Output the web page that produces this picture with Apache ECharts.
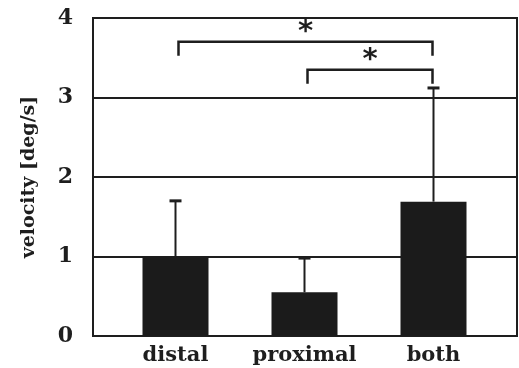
<!DOCTYPE html>
<html><head><meta charset="utf-8">
<script src="https://cdn.jsdelivr.net/npm/echarts@6/dist/echarts.min.js"></script>
<style>html,body{margin:0;padding:0;background:#fff}#c{width:519px;height:368px}</style>
</head><body><div id="c"></div>
<script>
const categories = ['distal', 'proximal', 'both'];
const meanVelocity = [1.0, 0.55, 1.69];
const sdVelocity = [0.70, 0.43, 1.43];
const yTicks = [0, 1, 2, 3, 4];
const sigFrom = ['distal', 'proximal'];
const sigTo = ['both', 'both'];
const sigHeight = [3.70, 3.35];
const sigLabel = ['*', '*'];

const ink = '#1e1e1e';
const serif = 'DejaVu Serif';
const chart = echarts.init(document.getElementById('c'));

const errData = meanVelocity.map((v, i) => [categories[i], v, v + sdVelocity[i]]);
const sigData = sigFrom.map((f, i) => [f, sigTo[i], sigHeight[i]]);
const yMin = yTicks[0], yMax = yTicks[yTicks.length - 1];

chart.setOption({
  animation: false,
  backgroundColor: '#fff',
  grid: [
    { left: 93, right: 2, top: 18, bottom: 32, show: true, borderColor: ink, borderWidth: 2, backgroundColor: 'transparent' },
    { left: 111, right: 21, top: 18, bottom: 32 }
  ],
  xAxis: [
    { gridIndex: 0, type: 'value', min: 0, max: 1, show: false },
    {
      gridIndex: 1, type: 'category', data: categories, boundaryGap: true,
      axisLine: { show: false }, axisTick: { show: false }, splitLine: { show: false },
      axisLabel: { interval: 0, hideOverlap: false, margin: 9, color: ink, fontFamily: serif, fontWeight: 'bold', fontSize: 21 }
    }
  ],
  yAxis: [
    {
      gridIndex: 0, type: 'value', min: yMin, max: yMax, interval: 1,
      name: 'velocity [deg/s]', nameLocation: 'middle', nameGap: 54,
      nameTextStyle: { color: ink, fontFamily: serif, fontWeight: 'bold', fontSize: 19 },
      axisLine: { show: false }, axisTick: { show: false },
      splitLine: { show: true, lineStyle: { color: ink, width: 2 } },
      axisLabel: { margin: 20, color: ink, fontFamily: serif, fontWeight: 'bold', fontSize: 22 }
    },
    { gridIndex: 1, type: 'value', min: yMin, max: yMax, interval: 1, show: false, splitLine: { show: false } }
  ],
  series: [
    {
      type: 'bar', xAxisIndex: 1, yAxisIndex: 1, data: meanVelocity, barWidth: 66, z: 3,
      itemStyle: { color: '#1b1b1b' }
    },
    {
      type: 'custom', xAxisIndex: 1, yAxisIndex: 1, data: errData, z: 2,
      renderItem: (params, api) => {
        const x = api.value(0);
        const p0 = api.coord([x, api.value(1)]);
        const p1 = api.coord([x, api.value(2)]);
        return { type: 'group', children: [
          { type: 'line', shape: { x1: p0[0], y1: p0[1], x2: p1[0], y2: p1[1] }, style: { stroke: ink, lineWidth: 2 } },
          { type: 'line', shape: { x1: p1[0] - 6, y1: p1[1], x2: p1[0] + 6, y2: p1[1] }, style: { stroke: ink, lineWidth: 3 } }
        ]};
      }
    },
    {
      type: 'custom', xAxisIndex: 1, yAxisIndex: 1, data: sigData, z: 4,
      dimensions: ['from', 'to', 'y'],
      encode: { x: [0, 1], y: 2 },
      renderItem: (params, api) => {
        const a = api.coord([api.value(0), api.value(2)]);
        const b = api.coord([api.value(1), api.value(2)]);
        const x1 = a[0] + 3, x2 = b[0] - 1, y = a[1], drop = 14;
        const st = { stroke: ink, lineWidth: 2.5, fill: null };
        return { type: 'group', children: [
          { type: 'polyline', shape: { points: [[x1, y + drop], [x1, y], [x2, y], [x2, y + drop]] }, style: st },
          { type: 'text', x: (x1 + x2) / 2, y: y - 9, style: { text: sigLabel[params.dataIndex], fill: ink, font: 'bold 29px "DejaVu Sans"', textAlign: 'center', textVerticalAlign: 'middle' } }
        ]};
      }
    }
  ]
});
</script></body></html>
